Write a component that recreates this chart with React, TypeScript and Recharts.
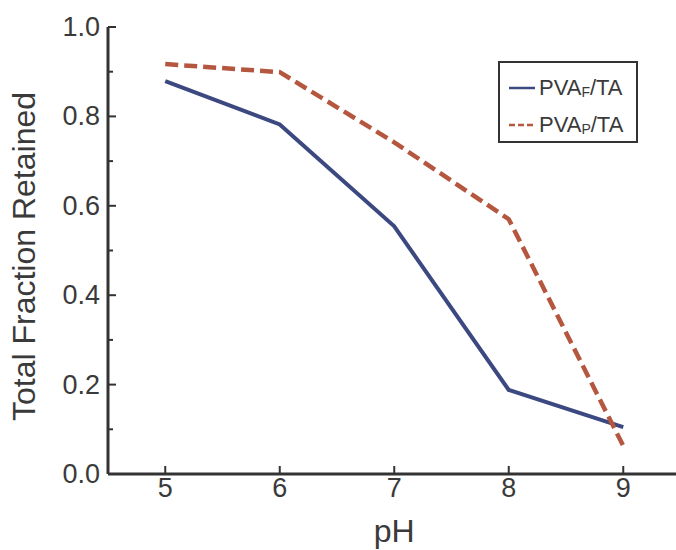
import { LineChart, Line, XAxis, YAxis, Legend } from 'recharts';

const phValues = [5, 6, 7, 8, 9];
const fractionF = [0.879, 0.782, 0.554, 0.188, 0.105];
const fractionP = [0.917, 0.899, 0.742, 0.57, 0.063];
const xTicks = [5, 6, 7, 8, 9];
const yTicks = [0, 0.1, 0.2, 0.3, 0.4, 0.5, 0.6, 0.7, 0.8, 0.9, 1.0];

const seriesF = { key: 'f', name: 'PVA', sub: 'F', suffix: '/TA', color: '#3c4880', dash: undefined };
const seriesP = { key: 'p', name: 'PVA', sub: 'P', suffix: '/TA', color: '#b5563f', dash: '13 6' };

const data = phValues.map((ph, i) => ({ ph, f: fractionF[i], p: fractionP[i] }));

const AXIS = '#333';
const TEXT = '#3a3a3a';
const FONT = '"Liberation Sans", Arial, Helvetica, sans-serif';

const isMajor = (v: number) => Math.round(v * 10) % 2 === 0;

// left ticks: drawn inward, labels only on major ticks
const LeftTick = ({ x, y, payload }: any) => {
  const major = isMajor(payload.value);
  return (
    <g>
      <line x1={x} x2={x + (major ? 8 : 5)} y1={y} y2={y} stroke={AXIS} strokeWidth={2} />
      {major && (
        <text x={x - 8} y={y} textAnchor="end" dominantBaseline="central" fontSize={27} fill={TEXT} fontFamily={FONT}>
          {payload.value.toFixed(1)}
        </text>
      )}
    </g>
  );
};

const RightTick = ({ x, y, payload }: any) => {
  const major = isMajor(payload.value);
  return <line x1={x} x2={x - (major ? 8 : 5)} y1={y} y2={y} stroke={AXIS} strokeWidth={2} />;
};

const BottomTick = ({ x, y, payload }: any) => (
  <g>
    <line x1={x} x2={x} y1={y} y2={y - 8} stroke={AXIS} strokeWidth={2} />
    <text x={x} y={y + 23} textAnchor="middle" fontSize={27} fill={TEXT} fontFamily={FONT}>
      {payload.value}
    </text>
  </g>
);

const TopTick = ({ x, y }: any) => (
  <line x1={x} x2={x} y1={y} y2={y + 8} stroke={AXIS} strokeWidth={2} />
);

const YLabel = ({ viewBox }: any) => {
  const cy = viewBox.y + viewBox.height / 2 + 6;
  return (
    <text x={35} y={cy} transform={`rotate(-90, 35, ${cy})`} textAnchor="middle" fontSize={32} fill={TEXT} fontFamily={FONT}>
      Total Fraction Retained
    </text>
  );
};

const XLabel = ({ viewBox }: any) => (
  <text x={viewBox.x + viewBox.width / 2} y={542} textAnchor="middle" fontSize={32} fill={TEXT} fontFamily={FONT}>
    pH
  </text>
);

const LegendBox = () => (
  <div
    style={{
      border: '2px solid #333',
      width: 140,
      height: 82,
      boxSizing: 'border-box',
      padding: '6px 0 0 9px',
      fontFamily: FONT,
      fontSize: 22,
      color: TEXT,
      background: '#fff',
    }}
  >
    {[seriesF, seriesP].map((s) => (
      <div key={s.key} style={{ display: 'flex', alignItems: 'center', height: 37 }}>
        <svg width={26} height={6} style={{ marginRight: 4 }}>
          <line x1={0} x2={26} y1={3} y2={3} stroke={s.color} strokeWidth={2.5} strokeDasharray={s.dash ? '6 3' : undefined} />
        </svg>
        <span>
          {s.name}
          <sub style={{ fontSize: 14, verticalAlign: -2 }}>{s.sub}</sub>
          {s.suffix}
        </span>
      </div>
    ))}
  </div>
);

export default function App() {
  return (
    <div style={{ position: 'absolute', left: 0, top: 0, width: 676, height: 550, overflow: 'hidden', background: '#fff' }}>
      <LineChart width={690} height={550} data={data} margin={{ top: 27, right: 9.5, left: 0, bottom: 0 }}>
        <XAxis
          xAxisId="bottom"
          dataKey="ph"
          type="number"
          domain={[4.5, 9.5]}
          ticks={xTicks}
          height={76}
          axisLine={{ stroke: AXIS, strokeWidth: 3 }}
          tickLine={false}
          tickSize={0}
          tickMargin={0}
          tick={<BottomTick />}
          label={<XLabel />}
          interval={0}
        />
        <XAxis
          xAxisId="top"
          orientation="top"
          dataKey="ph"
          type="number"
          domain={[4.5, 9.5]}
          ticks={xTicks}
          height={0}
          axisLine={{ stroke: AXIS, strokeWidth: 3 }}
          tickLine={false}
          tickSize={0}
          tickMargin={0}
          tick={<TopTick />}
          interval={0}
        />
        <YAxis
          yAxisId="left"
          type="number"
          domain={[0, 1]}
          ticks={yTicks}
          width={108}
          axisLine={{ stroke: AXIS, strokeWidth: 3 }}
          tickLine={false}
          tickSize={0}
          tickMargin={0}
          tick={<LeftTick />}
          label={<YLabel />}
          interval={0}
        />
        <YAxis
          yAxisId="right"
          orientation="right"
          type="number"
          domain={[0, 1]}
          ticks={yTicks}
          width={0}
          axisLine={{ stroke: AXIS, strokeWidth: 3 }}
          tickLine={false}
          tickSize={0}
          tickMargin={0}
          tick={<RightTick />}
          interval={0}
        />
        <Legend
          content={<LegendBox />}
          layout="horizontal"
          verticalAlign="middle"
          align="center"
          wrapperStyle={{ position: 'absolute', left: 498, top: 61, width: 'auto' }}
        />
        <Line
          xAxisId="bottom"
          yAxisId="left"
          type="linear"
          dataKey="f"
          name="PVAF/TA"
          stroke={seriesF.color}
          strokeWidth={4}
          dot={false}
          isAnimationActive={false}
        />
        <Line
          xAxisId="bottom"
          yAxisId="left"
          type="linear"
          dataKey="p"
          name="PVAP/TA"
          stroke={seriesP.color}
          strokeWidth={4.5}
          strokeDasharray={seriesP.dash}
          dot={false}
          isAnimationActive={false}
        />
      </LineChart>
    </div>
  );
}
